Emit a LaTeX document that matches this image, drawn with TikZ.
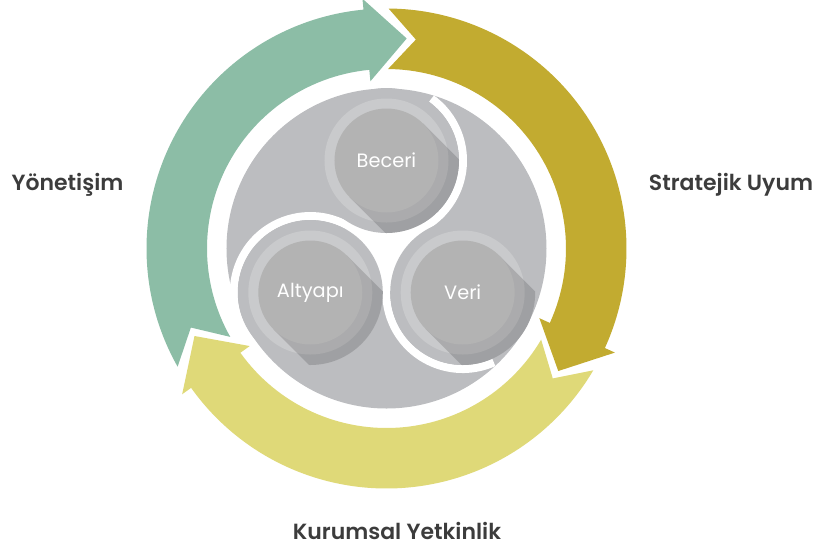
\documentclass[tikz,border=0pt]{standalone}
\usepackage{fontspec}
\setmainfont{Poppins}[BoldFont={Poppins SemiBold}]
\usetikzlibrary{calc}

\definecolor{yesil}{HTML}{8CBDA6}
\definecolor{koyusari}{HTML}{C2AB30}
\definecolor{aciksari}{HTML}{DFD978}
\definecolor{anagri}{HTML}{BCBDC0}
\definecolor{halkagri}{HTML}{C9CACC}
\definecolor{icgri}{HTML}{B3B3B3}
\definecolor{metin}{HTML}{3C3C3C}

\tikzset{
  etiket/.style={font=\bfseries\fontsize{12.5}{14}\selectfont, text=metin},
  daireyazi/.style={font=\fontsize{11}{13}\selectfont, text=white},
  bant/.style={draw=white, line width=0.16cm},
  golge/.style={fill=black, fill opacity=0.15},
}

% ok: kuyruk acisi, renk
\newcommand{\halkaok}[2]{%
  \fill[#2] (#1:240) arc[start angle=#1, end angle=#1-114, radius=240]
    -- ({#1-114}:251) -- ({#1-125}:211) -- ({#1-114}:168) -- ({#1-114}:179.5)
    arc[start angle=#1-114, end angle=#1, radius=179.5]
    -- ({#1-7.5}:211) -- cycle;
}

% kucuk daire: isim, metin
\newcommand{\kucukdaire}[2]{%
  \fill[anagri] (#1) circle[radius=72.5];
  \fill[halkagri] (#1) circle[radius=62];
  \begin{scope}
    \clip (#1) circle[radius=72.5];
    \fill[golge] ([shift={(45:52)}]#1) -- ++(-45:150) -- ++(-135:104)
      -- ([shift={(225:52)}]#1) -- cycle;
  \end{scope}
  \fill[icgri] (#1) circle[radius=52];
  \node[daireyazi] (#1yazi) at (#1) {#2};
}

\begin{document}
\begin{tikzpicture}[x=0.02cm, y=0.02cm]
  \useasboundingbox (-386.5,-300.5) rectangle (428.5,248.5);

  % Oklar
  \halkaok{209.5}{yesil}
  \halkaok{89.5}{koyusari}
  \halkaok{-30.5}{aciksari}

  % Buyuk gri daire
  \fill[anagri] (0,0) circle[radius=160];

  \coordinate (be) at (90:88);
  \coordinate (al) at (210:88);
  \coordinate (ve) at (330:88);

  % Beyaz kivrimlar
  \fill[white] (be) -- (al) -- (ve) -- cycle;
  \draw[bant] ([shift={(54:76.5)}]be) arc[start angle=54, end angle=-100, radius=76.5];
  \draw[bant] ([shift={(208:76.5)}]al) arc[start angle=208, end angle=20, radius=76.5];
  \draw[bant] ([shift={(294:76.5)}]ve) arc[start angle=294, end angle=140, radius=76.5];

  % Kucuk daireler
  \kucukdaire{be}{Beceri}
  \kucukdaire{al}{Altyapı}
  \kucukdaire{ve}{Veri}

  % Etiketler
  \node[etiket] (yonetisim) at (-319,63.5) {Yönetişim};
  \node[etiket] (strateji) at (344.5,63.5) {Stratejik Uyum};
  \node[etiket] (kurumsal) at (10.5,-282.5) {Kurumsal Yetkinlik};
\end{tikzpicture}
\end{document}
